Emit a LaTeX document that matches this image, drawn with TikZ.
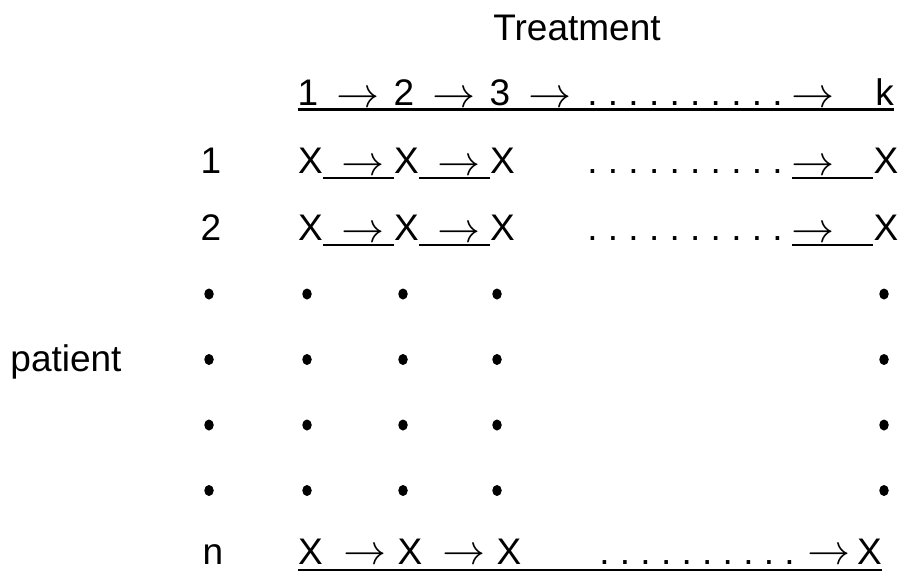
\documentclass[tikz,border=0pt]{standalone}
\usepackage{fontspec}
\usepackage{unicode-math}
\setmainfont{Liberation Sans}
\frenchspacing
\usetikzlibrary{shapes.geometric}
\begin{document}
\begin{tikzpicture}[x=1pt,y=-1pt,
  txt/.style={font=\fontsize{37}{44}\selectfont, inner sep=0pt, anchor=base},
  arr/.style={font=\fontsize{43}{44}\selectfont, inner sep=0pt, anchor=base, yshift=-2pt},
  ul/.style={line width=2.6pt},
  bul/.style={ellipse, fill=black, draw=none, minimum width=9.5pt, minimum height=11pt, inner sep=0pt}]
\useasboundingbox[fill=white] (0,0) rectangle (902,573);

% title and side label
\node[txt] (title) at (577,40) {Treatment};
\node[txt] (patient) at (66,371) {patient};

% header row
\node[txt] (h1) at (308,105) {1};
\node[arr] (ha1) at (358,105) {$\rightarrow$};
\node[txt] (h2) at (404,105) {2};
\node[arr] (ha2) at (454,105) {$\rightarrow$};
\node[txt] (h3) at (500,105) {3};
\node[arr] (ha3) at (550,105) {$\rightarrow$};
\node[txt] (hd) at (685,105) {. . . . . . . . . .};
\node[arr] (ha4) at (812.5,105) {$\rightarrow$};
\node[txt] (hk) at (884.5,105) {k};
\draw[ul] ([yshift=-4.5pt]h1.base west) -- ([yshift=-4.5pt]hk.base east);

% row 1
\node[txt] (l1) at (211,173) {1};
\node[txt] (x11) at (310.5,173) {X};
\node[arr] (a11) at (362.5,173) {$\rightarrow$};
\node[txt] (x12) at (406.5,173) {X};
\node[arr] (a12) at (458.5,173) {$\rightarrow$};
\node[txt] (x13) at (502.5,173) {X};
\node[txt] (d1) at (685,173) {. . . . . . . . . .};
\node[arr] (a14) at (812.5,173) {$\rightarrow$};
\node[txt] (x1k) at (886,173) {X};
\draw[ul] ([yshift=-5pt]x11.base east) -- ([yshift=-5pt]x12.base west);
\draw[ul] ([yshift=-5pt]x12.base east) -- ([yshift=-5pt]x13.base west);
\draw[ul] ([yshift=-5pt]x1k.base west) ++(-81pt,0) -- ([yshift=-5pt]x1k.base west);

% row 2
\node[txt] (l2) at (211,240) {2};
\node[txt] (x21) at (310.5,240) {X};
\node[arr] (a21) at (362.5,240) {$\rightarrow$};
\node[txt] (x22) at (406.5,240) {X};
\node[arr] (a22) at (458.5,240) {$\rightarrow$};
\node[txt] (x23) at (502.5,240) {X};
\node[txt] (d2) at (685,240) {. . . . . . . . . .};
\node[arr] (a24) at (812.5,240) {$\rightarrow$};
\node[txt] (x2k) at (886,240) {X};
\draw[ul] ([yshift=-5pt]x21.base east) -- ([yshift=-5pt]x22.base west);
\draw[ul] ([yshift=-5pt]x22.base east) -- ([yshift=-5pt]x23.base west);
\draw[ul] ([yshift=-5pt]x2k.base west) ++(-81pt,0) -- ([yshift=-5pt]x2k.base west);

% bullet rows
\foreach \r/\yy in {1/294,2/359.5,3/425,4/490.5}{
  \foreach \c/\xx in {1/209,2/307,3/403,4/497,5/884}{
    \node[bul] (b\r\c) at (\xx,\yy) {};
  }
}

% row n
\node[txt] (ln) at (213,564) {n};
\node[txt] (xn1) at (310.5,564) {X};
\node[arr,yshift=2pt] (an1) at (364.5,564) {$\rightarrow$};
\node[txt] (xn2) at (410,564) {X};
\node[arr,yshift=2pt] (an2) at (464,564) {$\rightarrow$};
\node[txt] (xn3) at (509,564) {X};
\node[txt] (dn) at (697,564) {. . . . . . . . . .};
\node[arr,yshift=2pt] (an4) at (829,564) {$\rightarrow$};
\node[txt] (xnk) at (869.5,564) {X};
\draw[ul] ([yshift=-6pt]xn1.base west) -- ([yshift=-6pt]xnk.base east);
\end{tikzpicture}
\end{document}
